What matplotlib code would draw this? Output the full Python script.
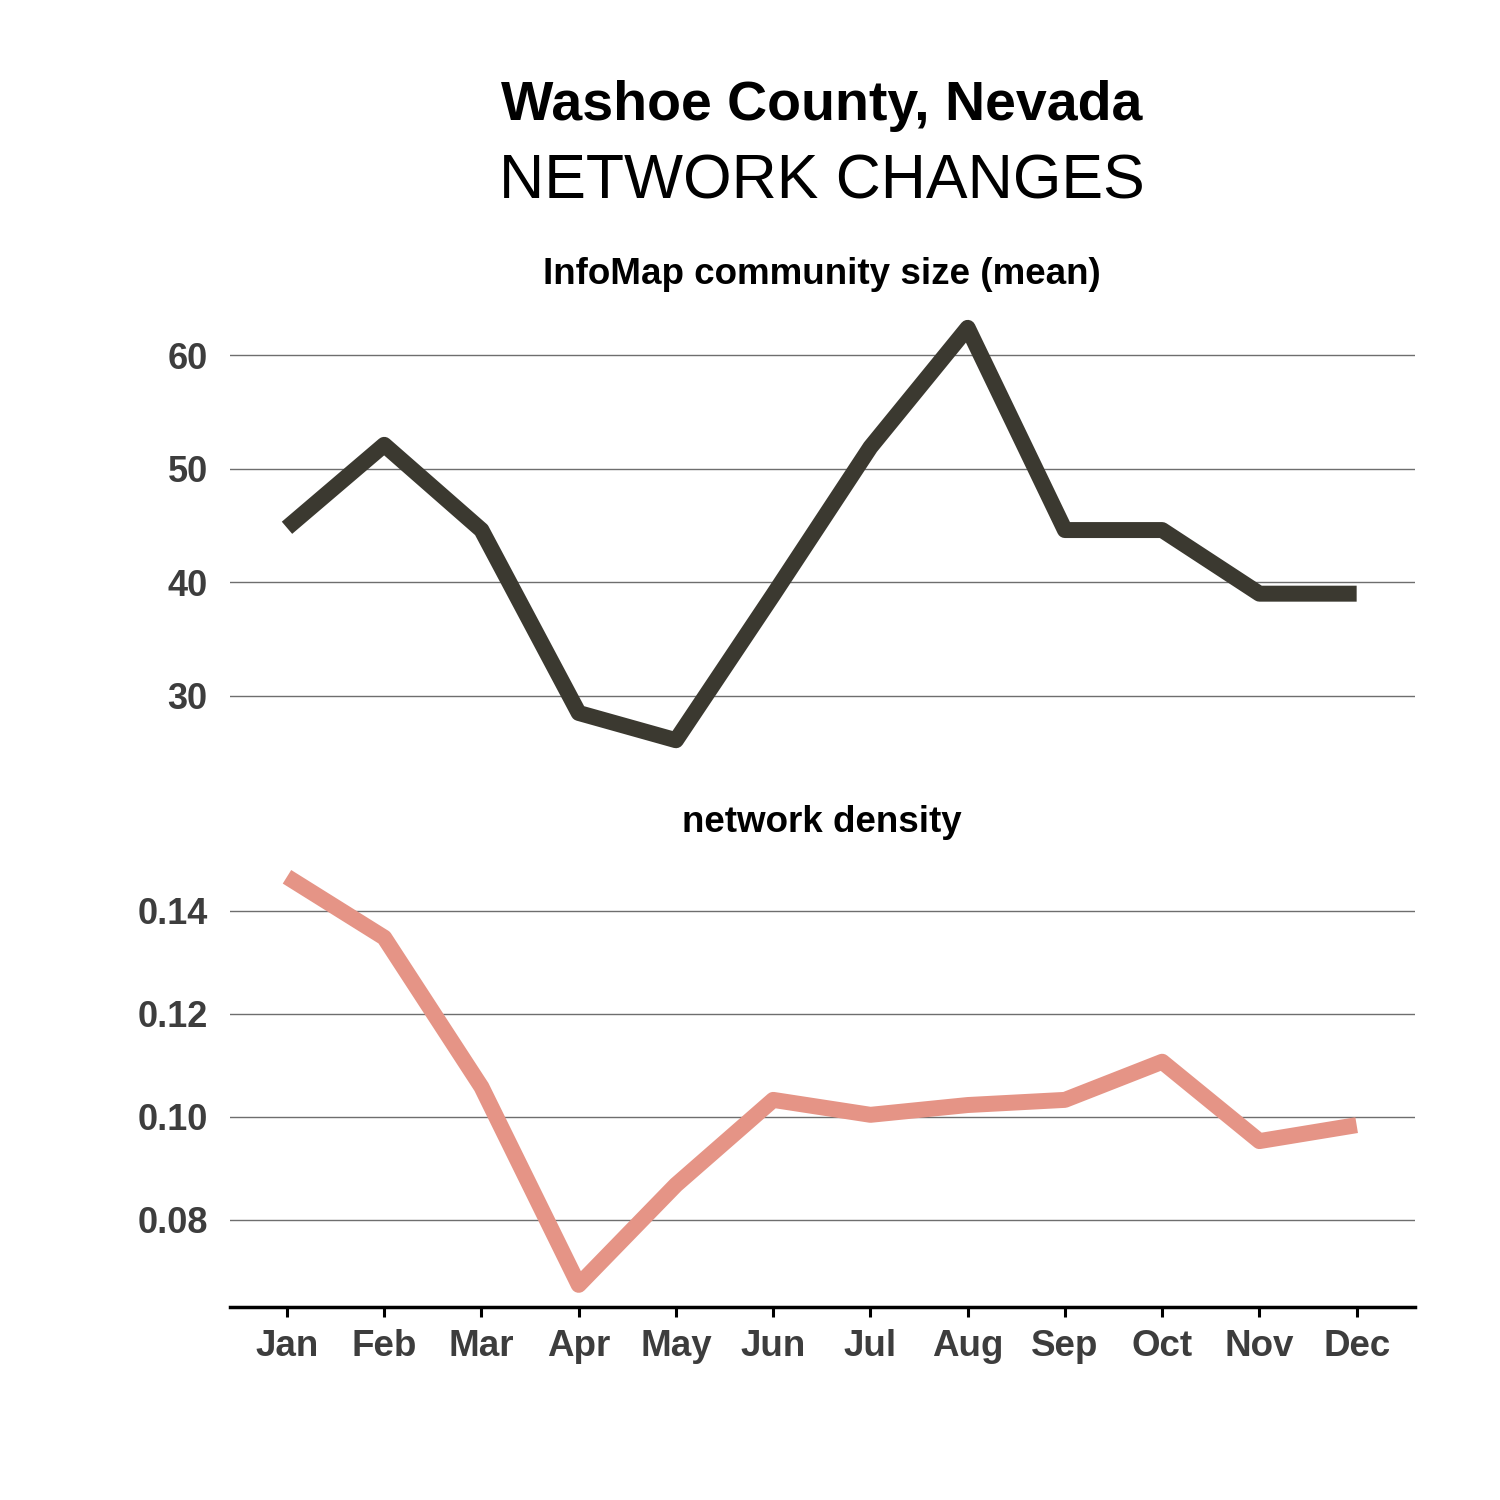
import matplotlib
matplotlib.use('Agg')
import matplotlib.pyplot as plt

# Datos
meses = ['Jan', 'Feb', 'Mar', 'Apr', 'May', 'Jun', 'Jul', 'Aug', 'Sep', 'Oct', 'Nov', 'Dec']
tam_comunidad = [44.8, 52.1, 44.6, 28.5, 26.1, 38.9, 51.9, 62.4, 44.6, 44.6, 39.0, 39.0]
densidad = [0.1466, 0.1348, 0.1058, 0.0674, 0.0868, 0.1033, 0.1004, 0.1023, 0.1033, 0.1107, 0.0953, 0.0984]
ticks_tam = [30, 40, 50, 60]
ticks_dens = [0.08, 0.10, 0.12, 0.14]

plt.rcParams['font.family'] = ['Liberation Sans', 'DejaVu Sans']

W = H = 1500
fig = plt.figure(figsize=(15, 15), dpi=100)
fig.patch.set_facecolor('white')

def caja(x0, y0, x1, y1):
    # coordenadas en pixeles (origen arriba) -> fracción de figura
    return [x0 / W, 1 - y1 / H, (x1 - x0) / W, (y1 - y0) / H]

ax1 = fig.add_axes(caja(230, 300, 1415, 760))
ax2 = fig.add_axes(caja(230, 850, 1415, 1307))

x = list(range(len(meses)))
ax1.plot(x, tam_comunidad, color='#3b3930', linewidth=11.5,
         solid_joinstyle='round', solid_capstyle='butt', zorder=3)
ax2.plot(x, densidad, color='#e59486', linewidth=11.5,
         solid_joinstyle='round', solid_capstyle='butt', zorder=3)

ax1.set_ylim(24.36, 64.85)
ax2.set_ylim(0.0631, 0.1518)
for ax in (ax1, ax2):
    ax.set_xlim(-0.586, 11.6)
    ax.set_facecolor('white')
    for s in ['top', 'right', 'left', 'bottom']:
        ax.spines[s].set_visible(False)
    ax.yaxis.grid(True, color='#6e6e6e', linewidth=1.0, zorder=1)
    ax.set_axisbelow(True)
    ax.tick_params(axis='y', length=0, pad=16, labelsize=26, labelcolor='#3d3d3d')

ax1.set_yticks(ticks_tam)
ax1.set_yticklabels([str(v) for v in ticks_tam], fontweight='bold')
ax1.set_xticks([])

ax2.set_yticks(ticks_dens)
ax2.set_yticklabels([f'{v:.2f}' for v in ticks_dens], fontweight='bold')
ax2.set_xticks(x)
ax2.set_xticklabels(meses, fontweight='bold')
ax2.spines['bottom'].set_visible(True)
ax2.spines['bottom'].set_linewidth(2.5)
ax2.spines['bottom'].set_color('black')
ax2.tick_params(axis='x', length=7, width=2.2, color='black', pad=9,
                labelsize=26.5, labelcolor='#3d3d3d')

# Títulos
fig.text(822 / W, 1 - 106 / H, 'Washoe County, Nevada', ha='center', va='center',
         fontsize=40, fontweight='bold', color='black')
fig.text(822 / W, 1 - 182 / H, 'NETWORK CHANGES', ha='center', va='center',
         fontsize=45, color='black')
fig.text(822 / W, 1 - 274 / H, 'InfoMap community size (mean)', ha='center', va='center',
         fontsize=26.5, fontweight='bold', color='black')
fig.text(822 / W, 1 - 822 / H, 'network density', ha='center', va='center',
         fontsize=26.5, fontweight='bold', color='black')

plt.savefig('out.png', dpi=100, facecolor='white')
